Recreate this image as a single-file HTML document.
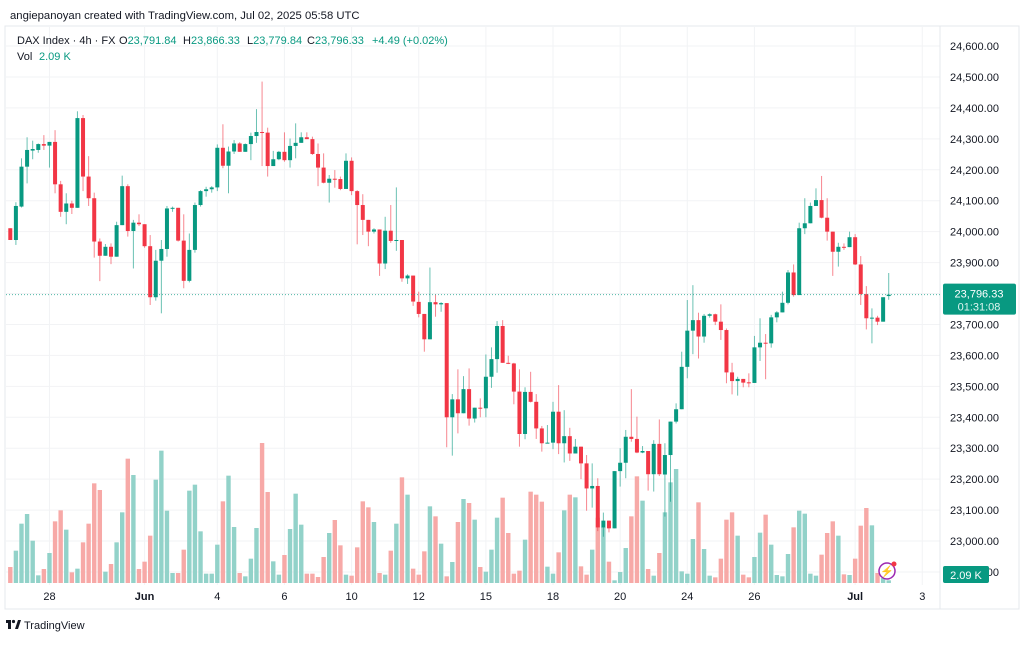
<!DOCTYPE html>
<html><head><meta charset="utf-8"><style>
body{margin:0;background:#fff;font-family:"Liberation Sans",sans-serif;}
svg text{font-family:"Liberation Sans",sans-serif;}
</style></head><body>
<svg id="chart" width="1024" height="642" viewBox="0 0 1024 642" xmlns="http://www.w3.org/2000/svg">
<rect x="0" y="0" width="1024" height="642" fill="#fff"/>
<text x="10" y="19" font-size="11.3" fill="#131722">angiepanoyan created with TradingView.com, Jul 02, 2025 05:58 UTC</text>
<rect x="5" y="26" width="1014" height="583" fill="none" stroke="#e6e8ec"/>
<g id="grid"></g>
<line x1="940" y1="26" x2="940" y2="609" stroke="#e6e8ec"/>
<g id="vols"></g>
<g id="candles"></g>
<g id="yaxis"></g>
<g id="xaxis"></g>
<g font-size="11">
<text x="17" y="44" fill="#131722">DAX Index · 4h · FX</text>
<text x="119" y="44" fill="#131722">O<tspan fill="#089981">23,791.84</tspan></text>
<text x="183" y="44" fill="#131722">H<tspan fill="#089981">23,866.33</tspan></text>
<text x="247" y="44" fill="#131722">L<tspan fill="#089981">23,779.84</tspan></text>
<text x="307" y="44" fill="#131722">C<tspan fill="#089981">23,796.33</tspan></text>
<text x="372" y="44" fill="#089981">+4.49 (+0.02%)</text>
<text x="17" y="60" fill="#131722">Vol</text>
<text x="39" y="60" fill="#089981">2.09 K</text>
</g>
<g>
<rect x="6" y="620" width="5" height="3" fill="#131722"/>
<rect x="8" y="620" width="3" height="9" fill="#131722"/>
<circle cx="13.5" cy="621.5" r="1.6" fill="#131722"/>
<polygon points="15,629 18,620 21,620 18,629" fill="#131722"/>
<text x="24" y="629" font-size="11" fill="#131722">TradingView</text>
</g>
<g>
<circle cx="887" cy="571" r="8" fill="#fff" stroke="#9c27b0" stroke-width="1.5"/>
<text x="887" y="575" font-size="11" fill="#9c27b0" text-anchor="middle">⚡</text>
<circle cx="894" cy="564" r="2.5" fill="#f23645"/>
</g>
</svg>
<script>
const opens=[24011,23973,24081,24210,24262,24264,24283,24278,24290,24153,24064,24091,24077,24367,24178,24108,23968,23922,23951,23919,24021,24147,24002,24029,24024,23953,23788,23906,23944,24075,24077,23971,23841,23941,24086,24131,24137,24143,24271,24213,24259,24285,24258,24283,24309,24322,24320,24212,24234,24258,24231,24277,24287,24305,24299,24251,24207,24158,24171,24170,24138,24229,24131,24086,24038,24000,24007,23897,24003,23970,23973,23849,23858,23773,23734,23652,23772,23765,23769,23400,23458,23413,23491,23396,23431,23429,23531,23588,23695,23576,23574,23483,23346,23482,23450,23364,23316,23318,23418,23316,23339,23283,23305,23251,23170,23178,23044,23066,23041,23226,23253,23337,23330,23286,23291,23216,23314,23215,23278,23386,23426,23563,23680,23714,23661,23728,23733,23709,23682,23545,23517,23524,23513,23511,23626,23641,23639,23723,23739,23770,23868,23795,24011,24027,24083,24102,24045,24000,23935,23951,23950,23982,23894,23798,23720,23722,23709,23791.84];
const highs=[24011,24095,24237,24305,24294,24285,24312,24290,24328,24164,24124,24100,24389,24377,24244,24126,23978,23960,23962,24032,24181,24153,24038,24056,24024,23989,23941,23973,24083,24081,24077,24056,23994,24094,24134,24145,24147,24282,24347,24275,24296,24289,24285,24320,24396,24485,24336,24261,24261,24321,24301,24350,24321,24321,24307,24285,24253,24183,24199,24178,24253,24240,24134,24121,24038,24011,24007,24048,24086,24143,23973,23862,23858,23806,23734,23884,23797,23772,23769,23475,23555,23533,23558,23431,23461,23603,23626,23711,23714,23599,23576,23555,23497,23547,23475,23372,23375,23450,23504,23423,23366,23330,23305,23278,23251,23203,23092,23066,23226,23300,23359,23491,23402,23307,23291,23326,23393,23316,23386,23445,23612,23779,23827,23738,23734,23736,23735,23765,23687,23576,23531,23524,23542,23663,23720,23669,23731,23743,23806,23876,23894,24029,24108,24094,24140,24180,24108,24000,23964,23962,24000,23992,23921,23824,23752,23728,23788,23866.33];
const lows=[23973,23957,24078,24156,24234,24255,24264,24207,24124,24048,24024,24057,24077,24131,24083,23916,23840,23922,23895,23919,24021,23984,23881,24018,23948,23763,23777,23736,23919,24064,23968,23817,23836,23932,24081,24113,24126,24131,24205,24124,24251,24258,24258,24231,24287,24212,24178,24212,24231,24226,24207,24237,24287,24299,24248,24147,24156,24094,24142,24134,24138,24118,23959,23989,23953,23994,23857,23879,23964,23938,23838,23831,23760,23723,23612,23652,23725,23741,23303,23276,23348,23413,23373,23383,23400,23400,23495,23544,23576,23572,23442,23305,23329,23448,23330,23289,23316,23297,23281,23254,23259,23283,23200,23098,23108,23032,23014,23028,23041,23176,23203,23321,23284,23284,23163,23160,23210,23079,23127,23380,23426,23526,23604,23590,23641,23722,23698,23650,23510,23474,23470,23497,23497,23511,23582,23523,23625,23707,23739,23765,23790,23795,23992,24027,24083,24043,23971,23857,23887,23941,23950,23892,23763,23684,23639,23698,23709,23779.84];
const closes=[23973,24083,24210,24264,24267,24283,24278,24290,24153,24064,24091,24077,24367,24178,24108,23968,23922,23951,23919,24021,24147,24002,24029,24024,23953,23788,23906,23944,24075,24077,23971,23841,23941,24086,24131,24137,24143,24271,24213,24259,24285,24258,24283,24309,24322,24320,24212,24234,24258,24231,24277,24287,24305,24299,24251,24207,24158,24171,24170,24138,24229,24131,24086,24038,24000,24007,23897,24003,23970,23973,23849,23858,23774,23734,23652,23772,23765,23769,23400,23458,23413,23491,23396,23431,23429,23531,23588,23695,23576,23574,23483,23346,23482,23450,23364,23316,23318,23418,23316,23339,23283,23305,23251,23170,23178,23044,23066,23041,23226,23253,23337,23330,23286,23291,23216,23314,23216,23278,23386,23426,23563,23680,23714,23661,23728,23733,23709,23682,23545,23517,23524,23512,23511,23626,23641,23639,23723,23739,23770,23868,23795,24011,24027,24083,24102,24045,24000,23935,23951,23950,23982,23894,23798,23720,23722,23709,23788,23796.33];
const volumes=[48,97,178,207,127,23,42,90,185,218,160,32,43,122,178,299,279,34,57,122,212,373,324,42,64,142,310,397,217,30,30,100,277,295,155,28,28,115,245,322,168,30,20,73,165,420,273,65,25,84,162,268,175,28,28,18,78,150,189,113,25,22,107,245,227,183,30,25,97,178,317,265,43,25,95,230,200,118,20,63,183,252,240,190,48,34,100,196,256,150,28,37,130,274,265,244,49,28,92,218,265,257,50,25,100,196,168,64,8,33,105,200,320,247,42,22,90,212,302,342,35,28,132,242,102,22,17,73,190,212,142,25,17,78,151,205,115,24,20,87,167,217,208,28,22,85,150,185,142,26,24,73,172,225,173,30,15,8];
const priceTicks=[24600,24500,24400,24300,24200,24100,24000,23900,23800,23700,23600,23500,23400,23300,23200,23100,23000,22900];
const dateLabels=["28","Jun","4","6","10","12","15","18","20","24","26","Jul","3"];
const dateIndex=[7,24,37,49,61,73,85,97,109,121,133,151,163];
const boldLabels=["Jun","Jul"];
const lastPrice=23796.33;

const NS="http://www.w3.org/2000/svg";
const yP=p=>46+(24600-p)*0.3094;
const xI=i=>10.3+i*5.595;
const yV=v=>583-v/3;
function mk(tag,attrs,parent){const e=document.createElementNS(NS,tag);for(const k in attrs)e.setAttribute(k,attrs[k]);parent.appendChild(e);return e;}
const grid=document.getElementById('grid'),cg=document.getElementById('candles'),vg=document.getElementById('vols'),ya=document.getElementById('yaxis'),xa=document.getElementById('xaxis');
priceTicks.forEach(p=>{
  const y=yP(p);
  if(y<30||y>590)return;
  const l=mk('line',{x1:6,x2:940,y1:y,y2:y,stroke:'#f2f3f5'},grid);
  
  
  const t=mk('text',{x:950,y:y+4,'font-size':11,fill:'#131722'},ya);
  t.textContent=p.toLocaleString('en-US',{minimumFractionDigits:2});
  
  
});
dateLabels.forEach((d,k)=>{
  const x=xI(dateIndex[k]);
  const l=mk('line',{x1:x,x2:x,y1:27,y2:585,stroke:'#f2f3f5'},grid);
  
  
  const t=mk('text',{x:x,y:600,'font-size':11,fill:'#131722','text-anchor':'middle','font-weight':boldLabels.includes(d)?'bold':'normal'},xa);
  t.textContent=d;
  
  
});
closes.forEach((c,i)=>{
  const o=opens[i],up=c>=o,x=xI(i);
  const vb=mk('rect',{x:x-2.2,y:yV(volumes[i]),width:4.4,height:volumes[i]/3,fill:up?'#92d2c9':'#f7a9a7'},vg);
  
  
  const col=up?'#089981':'#f23645';
  const w=mk('line',{x1:x,x2:x,y1:yP(highs[i]),y2:yP(lows[i]),stroke:col,'stroke-width':1,opacity:0.6},cg);
  
  
  const top=yP(Math.max(o,c)),bot=yP(Math.min(o,c));
  const b=mk('rect',{x:x-2,y:top,width:4,height:Math.max(1,bot-top),fill:col},cg);
  
  
});
const ly=yP(lastPrice);
const pl=mk('line',{x1:6,x2:940,y1:ly,y2:ly,stroke:'#089981','stroke-dasharray':'1 2',opacity:0.7},cg);


const lb=mk('rect',{x:943,y:ly-11,width:73,height:31,rx:2,fill:'#089981'},ya);


const t1=mk('text',{x:979,y:ly+3,'font-size':11,fill:'#fff','text-anchor':'middle'},ya);
t1.textContent=lastPrice.toLocaleString('en-US',{minimumFractionDigits:2});


const t2=mk('text',{x:979,y:ly+16,'font-size':11,fill:'#dff5f1','text-anchor':'middle'},ya);
t2.textContent='01:31:08';


const vb2=mk('rect',{x:943,y:566,width:46,height:17,rx:2,fill:'#089981'},ya);


const t3=mk('text',{x:966,y:579,'font-size':11,fill:'#fff','text-anchor':'middle'},ya);
t3.textContent='2.09 K';


</script>
</body></html>
